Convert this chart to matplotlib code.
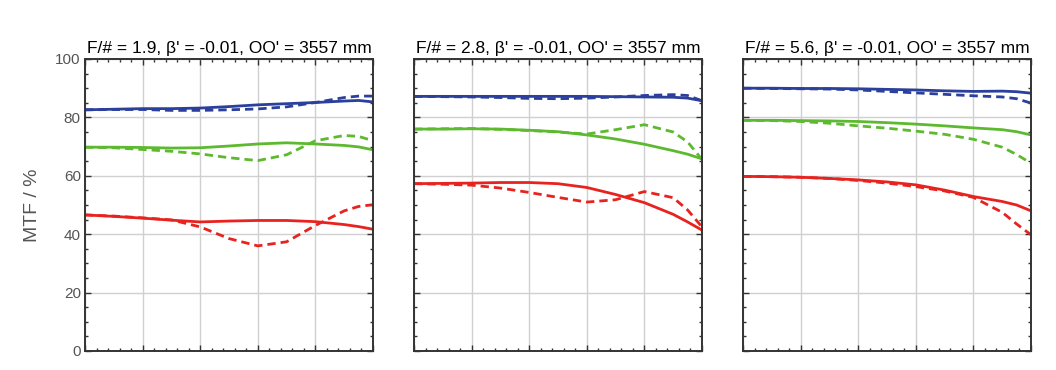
import matplotlib
matplotlib.use('Agg')
import matplotlib.pyplot as plt
from matplotlib.ticker import MultipleLocator, NullFormatter

plt.rcParams['font.family'] = ['Liberation Sans', 'DejaVu Sans']

BLUE = '#2b3f9c'
GREEN = '#5db92f'
RED = '#e8231f'

# normalised field position
field = [0.0, 0.1, 0.2, 0.3, 0.4, 0.5, 0.6, 0.7, 0.8, 0.9, 0.95, 1.0]

titles = ["F/# = 1.9, β' = -0.01, OO' = 3557 mm",
          "F/# = 2.8, β' = -0.01, OO' = 3557 mm",
          "F/# = 5.6, β' = -0.01, OO' = 3557 mm"]

# F/# 1.9
p1_blue_sag = [82.6, 82.8, 83.0, 83.0, 83.2, 83.7, 84.3, 84.7, 85.1, 85.6, 85.8, 85.3]
p1_blue_tan = [82.6, 82.7, 82.7, 82.4, 82.4, 82.6, 82.9, 83.6, 85.1, 86.8, 87.3, 87.3]
p1_green_sag = [69.8, 69.8, 69.7, 69.5, 69.6, 70.2, 70.9, 71.3, 70.9, 70.4, 69.9, 68.9]
p1_green_tan = [69.8, 69.6, 69.0, 68.4, 67.5, 66.2, 65.2, 67.2, 72.0, 73.8, 73.5, 72.0]
p1_red_sag = [46.6, 46.1, 45.5, 44.8, 44.2, 44.5, 44.7, 44.7, 44.3, 43.3, 42.6, 41.7]
p1_red_tan = [46.6, 46.2, 45.6, 44.9, 42.5, 38.5, 36.0, 37.4, 43.0, 48.0, 49.5, 50.1]

# F/# 2.8
p2_blue_sag = [87.2, 87.2, 87.2, 87.2, 87.2, 87.2, 87.2, 87.1, 87.0, 86.9, 86.6, 85.7]
p2_blue_tan = [87.2, 87.1, 87.0, 86.8, 86.5, 86.4, 86.6, 87.0, 87.5, 87.8, 87.5, 85.7]
p2_green_sag = [76.0, 76.0, 76.1, 76.0, 75.6, 75.1, 74.0, 72.6, 70.8, 68.6, 67.4, 65.8]
p2_green_tan = [76.0, 76.1, 76.2, 75.9, 75.5, 75.0, 74.3, 75.8, 77.5, 75.0, 71.6, 65.6]
p2_red_sag = [57.3, 57.4, 57.5, 57.7, 57.7, 57.3, 56.0, 53.6, 50.8, 46.8, 44.2, 41.4]
p2_red_tan = [57.3, 57.1, 56.8, 55.8, 54.3, 52.6, 51.0, 51.8, 54.6, 52.5, 48.3, 42.5]

# F/# 5.6
p3_blue_sag = [90.0, 90.0, 89.9, 89.9, 89.8, 89.6, 89.4, 89.1, 88.9, 89.0, 88.8, 88.3]
p3_blue_tan = [90.0, 89.9, 89.8, 89.7, 89.4, 88.9, 88.4, 87.9, 87.4, 87.0, 86.4, 84.9]
p3_green_sag = [79.0, 79.0, 78.9, 78.8, 78.6, 78.2, 77.7, 77.1, 76.4, 75.8, 75.1, 74.0]
p3_green_tan = [79.0, 78.9, 78.6, 78.0, 77.1, 76.3, 75.3, 74.2, 72.5, 69.8, 67.3, 64.3]
p3_red_sag = [59.8, 59.7, 59.5, 59.1, 58.6, 57.9, 56.9, 55.1, 52.9, 51.2, 50.0, 48.0]
p3_red_tan = [59.8, 59.7, 59.5, 59.1, 58.4, 57.5, 56.3, 54.8, 52.6, 47.5, 43.5, 39.8]

panels = [
    [(p1_blue_sag, p1_blue_tan, BLUE), (p1_green_sag, p1_green_tan, GREEN), (p1_red_sag, p1_red_tan, RED)],
    [(p2_blue_sag, p2_blue_tan, BLUE), (p2_green_sag, p2_green_tan, GREEN), (p2_red_sag, p2_red_tan, RED)],
    [(p3_blue_sag, p3_blue_tan, BLUE), (p3_green_sag, p3_green_tan, GREEN), (p3_red_sag, p3_red_tan, RED)],
]

fig = plt.figure(figsize=(10.56, 3.70), dpi=100)
lefts = [85 / 1056, 414 / 1056, 743 / 1056]
bottom = 1 - 351 / 370
height = (351 - 59) / 370
width = 288 / 1056

for i, (curves, title) in enumerate(zip(panels, titles)):
    ax = fig.add_axes([lefts[i], bottom, width, height])
    for sag, tan, col in curves:
        ax.plot(field, sag, color=col, lw=2.0, solid_capstyle='butt')
        ax.plot(field, tan, color=col, lw=2.0, linestyle=(0, (3.0, 1.8)))
    ax.set_xlim(0, 1)
    ax.set_ylim(0, 100)
    ax.xaxis.set_major_locator(MultipleLocator(0.2))
    ax.xaxis.set_minor_locator(MultipleLocator(0.04))
    ax.yaxis.set_major_locator(MultipleLocator(20))
    ax.yaxis.set_minor_locator(MultipleLocator(5))
    ax.xaxis.set_major_formatter(NullFormatter())
    ax.grid(True, which='major', color='#d0d0d0', lw=1.0)
    ax.set_axisbelow(True)
    ax.tick_params(which='both', direction='in', top=True, right=True,
                   colors='#333333', width=1.0)
    ax.tick_params(which='major', length=4)
    ax.tick_params(which='minor', length=2.5)
    ax.tick_params(axis='y', labelsize=11, labelcolor='#555555', pad=3)
    for s in ax.spines.values():
        s.set_color('#333333')
        s.set_linewidth(1.4)
    ax.set_title(title, fontsize=12.5, color='black', pad=4)
    if i == 0:
        ax.set_ylabel('MTF / %', fontsize=14, color='#555555', labelpad=10)
    else:
        ax.yaxis.set_major_formatter(NullFormatter())

fig.savefig('out.png', dpi=100)
